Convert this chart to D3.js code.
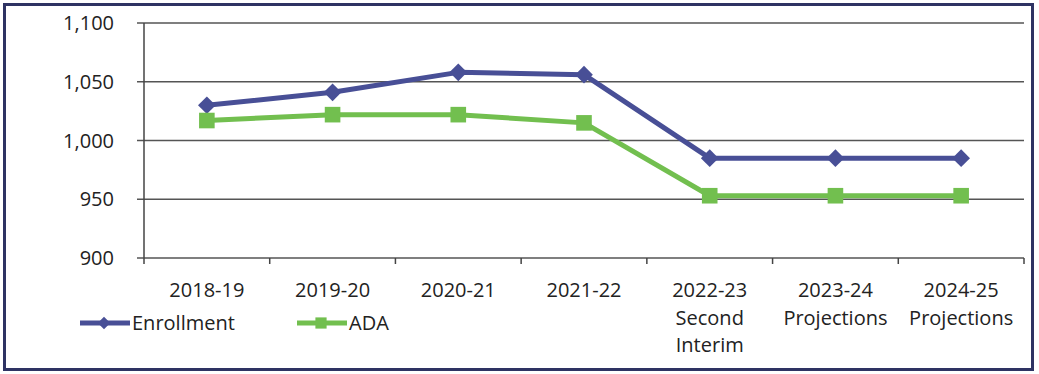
<!DOCTYPE html>
<html>
<head>
<meta charset="utf-8">
<script src="https://cdn.jsdelivr.net/npm/d3@7"></script>
<style>
  body { margin: 0; background: #fff; }
  text { font-family: "Open Sans", "Noto Sans", sans-serif; fill: #222; }
</style>
</head>
<body>
<div id="plot"></div>
<script>
var categories = [
    ["2018-19"], ["2019-20"], ["2020-21"], ["2021-22"],
    ["2022-23", "Second", "Interim"], ["2023-24", "Projections"], ["2024-25", "Projections"]
];
var enrollment = [1030, 1041, 1058, 1056, 985, 985, 985];
var ada = [1017, 1022, 1022, 1015, 953, 953, 953];
var yTicks = [900, 950, 1000, 1050, 1100];

var navy = "#484f96";
var green = "#72bf4f";

var width = 1039;
var height = 374;
var plotLeft = 144, plotRight = 1024, plotTop = 23, plotBottom = 258;

var svg = d3.select("#plot").append("svg").attr("width", width).attr("height", height);

// frame
svg.append("rect")
    .attr("x", 4.5).attr("y", 4.5)
    .attr("width", 1028).attr("height", 365)
    .attr("fill", "none").attr("stroke", "#2e3363").attr("stroke-width", 3);

var keys = categories.map(function(d) { return d.join(" "); });

var xScale = d3.scaleBand()
    .range([plotLeft, plotRight])
    .domain(keys);

var yScale = d3.scaleLinear()
    .domain([900, 1100])
    .range([plotBottom, plotTop]);

// gridlines
svg.append("g")
    .selectAll("line")
    .data(yTicks)
    .enter()
    .append("line")
    .attr("x1", plotLeft - 7).attr("x2", plotRight)
    .attr("y1", function(d) { return yScale(d); })
    .attr("y2", function(d) { return yScale(d); })
    .attr("stroke", "#555").attr("stroke-width", 1.3);

// y axis line
svg.append("line")
    .attr("x1", plotLeft).attr("x2", plotLeft)
    .attr("y1", plotTop).attr("y2", plotBottom)
    .attr("stroke", "#444").attr("stroke-width", 1.5);

// y labels
svg.append("g")
    .selectAll("text")
    .data(yTicks)
    .enter()
    .append("text")
    .attr("x", 114)
    .attr("y", function(d) { return yScale(d); })
    .attr("dy", "0.36em")
    .attr("text-anchor", "end")
    .style("font-size", "20px")
    .text(function(d) { return d3.format(",")(d); });

// x ticks at band edges
var edges = keys.map(function(k) { return xScale(k); }).concat([plotRight]);
svg.append("g")
    .selectAll("line")
    .data(edges)
    .enter()
    .append("line")
    .attr("x1", function(d) { return d; }).attr("x2", function(d) { return d; })
    .attr("y1", plotBottom).attr("y2", plotBottom + 6)
    .attr("stroke", "#444").attr("stroke-width", 1.5);

// x labels
var xl = svg.append("g")
    .selectAll("text")
    .data(categories)
    .enter()
    .append("text")
    .attr("text-anchor", "middle")
    .style("font-size", "20px")
    .attr("transform", function(d, i) {
        return "translate(" + (xScale(keys[i]) + xScale.bandwidth() / 2) + ",297)";
    });
xl.selectAll("tspan")
    .data(function(d) { return d; })
    .enter()
    .append("tspan")
    .attr("x", 0)
    .attr("y", function(d, i) { return i * 27.5; })
    .text(function(d) { return d; });

var line = d3.line()
    .x(function(d, i) { return xScale(keys[i]) + xScale.bandwidth() / 2; })
    .y(function(d) { return yScale(d); });

function drawSeries(values, color, symbol, size) {
    svg.append("path")
        .datum(values)
        .attr("d", line)
        .attr("fill", "none")
        .attr("stroke", color)
        .attr("stroke-width", 5)
        .attr("stroke-linejoin", "round");
    svg.append("g")
        .selectAll("path")
        .data(values)
        .enter()
        .append("path")
        .attr("d", d3.symbol().type(symbol).size(size))
        .attr("transform", function(d, i) {
            return "translate(" + (xScale(keys[i]) + xScale.bandwidth() / 2) + "," + yScale(d) + ")";
        })
        .attr("fill", color);
}

drawSeries(enrollment, navy, d3.symbolDiamond2, 200);
drawSeries(ada, green, d3.symbolSquare2, 310);

// legend
var legend = [
    { name: "Enrollment", color: navy, symbol: d3.symbolDiamond2, size: 100, x: 80 },
    { name: "ADA", color: green, symbol: d3.symbolSquare2, size: 160, x: 297 }
];
var lg = svg.append("g")
    .selectAll("g")
    .data(legend)
    .enter()
    .append("g")
    .attr("transform", function(d) { return "translate(" + d.x + ",323)"; });
lg.append("line")
    .attr("x1", 0).attr("x2", 50)
    .attr("stroke", function(d) { return d.color; })
    .attr("stroke-width", 5);
lg.append("path")
    .attr("transform", "translate(24,0)")
    .attr("d", function(d) { return d3.symbol().type(d.symbol).size(d.size)(); })
    .attr("fill", function(d) { return d.color; });
lg.append("text")
    .attr("x", 52)
    .attr("dy", "0.36em")
    .style("font-size", "20px")
    .text(function(d) { return d.name; });
</script>
</body>
</html>
